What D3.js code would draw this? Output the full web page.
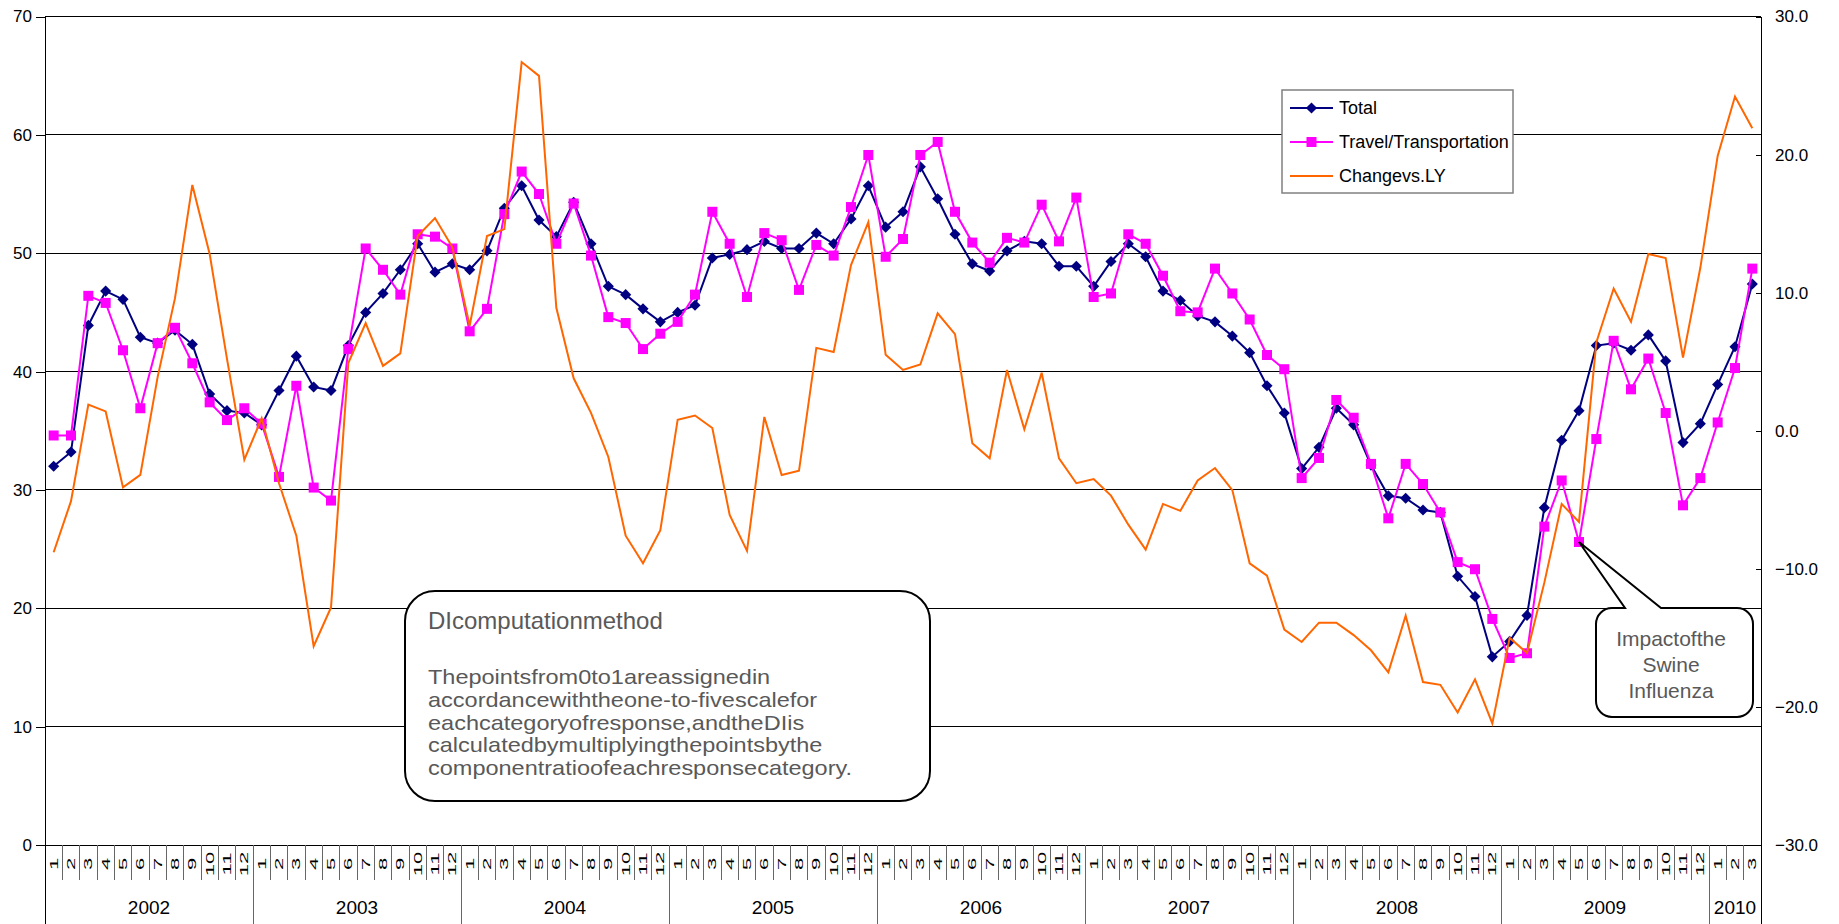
<!DOCTYPE html>
<html>
<head>
<meta charset="utf-8">
<script src="https://cdn.jsdelivr.net/npm/d3@7/dist/d3.min.js"></script>
<style>
  html, body { margin: 0; padding: 0; background: #fff; }
  svg { display: block; font-family: "Liberation Sans", Arial, sans-serif; }
</style>
</head>
<body>
<svg id="chart" width="1839" height="924"></svg>
<script>
// Monthly series, Jan 2002 – Mar 2010
const years = ["2002", "2003", "2004", "2005", "2006", "2007", "2008", "2009", "2010"];
const monthsPerYear = [12, 12, 12, 12, 12, 12, 12, 12, 3];

const total = [
  32.0, 33.2, 43.9, 46.8, 46.1, 42.9, 42.4, 43.5, 42.3, 38.1, 36.7, 36.5,
  35.5, 38.4, 41.3, 38.7, 38.4, 42.2, 45.0, 46.6, 48.6, 50.8, 48.4, 49.1,
  48.6, 50.2, 53.8, 55.7, 52.8, 51.4, 54.3, 50.8, 47.2, 46.5, 45.3, 44.2,
  45.0, 45.6, 49.6, 49.9, 50.3, 51.0, 50.4, 50.4, 51.7, 50.8, 52.9, 55.7,
  52.2, 53.5, 57.3, 54.6, 51.6, 49.1, 48.5, 50.2, 51.0, 50.8, 48.9, 48.9,
  47.2, 49.3, 50.8, 49.7, 46.8, 46.0, 44.7, 44.2, 43.0, 41.6, 38.8, 36.5,
  31.8, 33.6, 36.9, 35.5, 32.1, 29.5, 29.3, 28.3, 28.1, 22.7, 21.0, 15.9,
  17.2, 19.4, 28.5, 34.2, 36.7, 42.2, 42.4, 41.8, 43.1, 40.9, 34.0, 35.6,
  38.9, 42.1, 47.4
];

const travel = [
  34.6, 34.6, 46.4, 45.8, 41.8, 36.9, 42.4, 43.7, 40.7, 37.4, 35.9, 36.9,
  35.6, 31.1, 38.8, 30.2, 29.1, 41.9, 50.4, 48.6, 46.5, 51.6, 51.4, 50.4,
  43.4, 45.3, 53.3, 56.9, 55.0, 50.8, 54.2, 49.8, 44.6, 44.1, 41.9, 43.2,
  44.2, 46.5, 53.5, 50.8, 46.3, 51.7, 51.1, 46.9, 50.7, 49.8, 53.9, 58.3,
  49.7, 51.2, 58.3, 59.4, 53.5, 50.9, 49.2, 51.3, 50.9, 54.1, 51.0, 54.7,
  46.3, 46.6, 51.6, 50.8, 48.1, 45.1, 45.0, 48.7, 46.6, 44.4, 41.4, 40.2,
  31.0, 32.7, 37.6, 36.1, 32.2, 27.6, 32.2, 30.5, 28.1, 23.9, 23.3, 19.1,
  15.8, 16.2, 26.9, 30.8, 25.6, 34.3, 42.6, 38.5, 41.1, 36.5, 28.7, 31.0,
  35.7, 40.3, 48.7
];

// Change vs. last year (secondary axis)
const changeVsLY = [
  -8.8, -5.1, 1.9, 1.4, -4.1, -3.2, 3.9, 9.6, 17.8, 12.8, 5.2, -2.1,
  0.9, -3.8, -7.6, -15.6, -12.8, 4.9, 7.8, 4.7, 5.6, 14.1, 15.4, 13.3,
  7.6, 14.1, 14.6, 26.7, 25.7, 8.9, 3.8, 1.3, -1.9, -7.6, -9.6, -7.2,
  0.8, 1.1, 0.2, -6.1, -8.7, 1.0, -3.2, -2.9, 6.0, 5.7, 12.0, 15.1,
  5.5, 4.4, 4.8, 8.5, 7.0, -0.9, -2.0, 4.4, 0.1, 4.2, -2.0, -3.8,
  -3.5, -4.7, -6.8, -8.6, -5.3, -5.8, -3.6, -2.7, -4.3, -9.6, -10.5, -14.4,
  -15.3, -13.9, -13.9, -14.8, -15.9, -17.5, -13.4, -18.2, -18.4, -20.4, -18.0, -21.2,
  -15.0, -16.1, -11.0, -5.3, -6.6, 6.4, 10.3, 7.9, 12.8, 12.5, 5.3, 11.8,
  19.9, 24.2, 21.9
];

const leftTicks = [0, 10, 20, 30, 40, 50, 60, 70];
const rightTicks = [-30, -20, -10, 0, 10, 20, 30];
const seriesNames = ["Total", "Travel/Transportation", "Changevs.LY"];

const noteTitle = "DIcomputationmethod";
const noteLines = [
  "Thepointsfrom0to1areassignedin",
  "accordancewiththeone-to-fivescalefor",
  "eachcategoryofresponse,andtheDIis",
  "calculatedbymultiplyingthepointsbythe",
  "componentratioofeachresponsecategory."
];
const calloutLines = ["Impactofthe", "Swine", "Influenza"];
const calloutIndex = 88; // 2009-5

// Month labels built from the per-year month counts
const months = [];
years.forEach((yr, yi) => {
  for (let m = 1; m <= monthsPerYear[yi]; m++) months.push({ year: yr, month: m });
});

const colors = { total: "#000080", travel: "#FF00FF", change: "#FF6600" };

const svg = d3.select("#chart");
const W = 1839, H = 924;
const plot = { left: 45, right: 1761, top: 16.5, bottom: 845 };

svg.append("rect").attr("width", W).attr("height", H).attr("fill", "#fff");

const x = d3.scaleBand().domain(d3.range(months.length)).range([plot.left, plot.right]).padding(0);
const cx = i => x(i) + x.bandwidth() / 2;
const yL = d3.scaleLinear().domain([0, 70]).range([plot.bottom, plot.top]);
const yR = d3.scaleLinear().domain([-30, 30]).range([plot.bottom, plot.top]);

// Horizontal gridlines (primary axis)
svg.append("g").selectAll("line").data(leftTicks.filter(v => v > 0)).join("line")
  .attr("x1", plot.left).attr("x2", plot.right)
  .attr("y1", d => yL(d)).attr("y2", d => yL(d))
  .attr("stroke", "#000").attr("stroke-width", 1).attr("shape-rendering", "crispEdges");

// Left axis
const gL = svg.append("g").attr("transform", `translate(${plot.left},0)`)
  .call(d3.axisLeft(yL).tickValues(leftTicks).tickSize(9).tickPadding(4).tickFormat(d3.format("d")));
gL.select(".domain").remove();
gL.selectAll(".tick line").attr("stroke", "#000").attr("shape-rendering", "crispEdges");
gL.selectAll(".tick text").attr("font-size", 17).attr("fill", "#000")
  .attr("font-family", "'Liberation Sans', Arial, sans-serif");

// Right axis (secondary)
const gR = svg.append("g").attr("transform", `translate(${plot.right},0)`)
  .call(d3.axisRight(yR).tickValues(rightTicks).tickSizeInner(-5).tickSizeOuter(0).tickPadding(14).tickFormat(d3.format(".1f")));
gR.select(".domain").remove();
gR.selectAll(".tick line").attr("stroke", "#000").attr("shape-rendering", "crispEdges");
gR.selectAll(".tick text").attr("font-size", 17).attr("fill", "#000")
  .attr("font-family", "'Liberation Sans', Arial, sans-serif");

// Vertical frame lines (extend through the category label area)
[plot.left, plot.right].forEach(px => {
  svg.append("line").attr("x1", px).attr("x2", px).attr("y1", plot.top).attr("y2", H)
    .attr("stroke", "#000").attr("stroke-width", 1).attr("shape-rendering", "crispEdges");
});

// Category axis: baseline, month ticks, year separators
svg.append("line").attr("x1", plot.left).attr("x2", plot.right)
  .attr("y1", plot.bottom).attr("y2", plot.bottom)
  .attr("stroke", "#000").attr("shape-rendering", "crispEdges");

const boundaries = d3.range(1, months.length);
svg.append("g").selectAll("line").data(boundaries).join("line")
  .attr("x1", i => x(i)).attr("x2", i => x(i))
  .attr("y1", plot.bottom)
  .attr("y2", i => months[i].month === 1 ? H : 880)
  .attr("stroke", "#666").attr("stroke-width", 1).attr("shape-rendering", "crispEdges");

svg.append("g").selectAll("text").data(months).join("text")
  .attr("transform", (d, i) => `translate(${cx(i)},864) rotate(-90) scale(1,0.52)`)
  .attr("text-anchor", "middle").attr("dominant-baseline", "central")
  .attr("font-size", 22).attr("fill", "#000")
  .text(d => d.month);

let start = 0;
const yearSpans = years.map((yr, yi) => {
  const s = { year: yr, from: start, to: start + monthsPerYear[yi] };
  start += monthsPerYear[yi];
  return s;
});
svg.append("g").selectAll("text").data(yearSpans).join("text")
  .attr("x", d => (x(d.from) + x(d.to - 1) + x.bandwidth()) / 2)
  .attr("y", 914)
  .attr("text-anchor", "middle").attr("font-size", 19).attr("fill", "#000")
  .text(d => d.year);

// Series
const idx = d3.range(months.length);
const lineL = arr => d3.line().x(i => cx(i)).y(i => yL(arr[i]));
const lineR = arr => d3.line().x(i => cx(i)).y(i => yR(arr[i]));
const diamond = d3.symbol(d3.symbolSquare, 62);

svg.append("path").datum(idx).attr("d", lineL(total))
  .attr("fill", "none").attr("stroke", colors.total).attr("stroke-width", 2);
svg.append("g").selectAll("path").data(idx).join("path")
  .attr("d", diamond)
  .attr("transform", i => `translate(${cx(i)},${yL(total[i])}) rotate(45)`)
  .attr("fill", colors.total);

svg.append("path").datum(idx).attr("d", lineL(travel))
  .attr("fill", "none").attr("stroke", colors.travel).attr("stroke-width", 2);
svg.append("g").selectAll("rect").data(idx).join("rect")
  .attr("x", i => cx(i) - 5).attr("y", i => yL(travel[i]) - 5)
  .attr("width", 10).attr("height", 10).attr("fill", colors.travel);

svg.append("path").datum(idx).attr("d", lineR(changeVsLY))
  .attr("fill", "none").attr("stroke", colors.change).attr("stroke-width", 2)
  .attr("stroke-linejoin", "miter");

// Legend
const lg = svg.append("g").attr("transform", "translate(1282,90)");
lg.append("rect").attr("width", 231).attr("height", 103)
  .attr("fill", "#fff").attr("stroke", "#808080").attr("stroke-width", 1.5);
const rows = [
  { name: seriesNames[0], color: colors.total, marker: "diamond" },
  { name: seriesNames[1], color: colors.travel, marker: "square" },
  { name: seriesNames[2], color: colors.change, marker: null }
];
rows.forEach((r, k) => {
  const ry = 18 + k * 34;
  lg.append("line").attr("x1", 8).attr("x2", 51).attr("y1", ry).attr("y2", ry)
    .attr("stroke", r.color).attr("stroke-width", 2);
  if (r.marker === "diamond") {
    lg.append("path").attr("d", diamond)
      .attr("transform", `translate(29.5,${ry}) rotate(45)`).attr("fill", r.color);
  } else if (r.marker === "square") {
    lg.append("rect").attr("x", 24.5).attr("y", ry - 5).attr("width", 10).attr("height", 10)
      .attr("fill", r.color);
  }
  lg.append("text").attr("x", 57).attr("y", ry).attr("dominant-baseline", "central")
    .attr("font-size", 18).attr("fill", "#000").text(r.name);
});

// Rounded box outline, optionally with a pointer notch on the top edge
function roundedRectPath(x0, y0, x1, y1, r, pointer) {
  const p = d3.path();
  p.moveTo(x0 + r, y0);
  if (pointer) {
    p.lineTo(pointer.b1, y0);
    p.lineTo(pointer.tx, pointer.ty);
    p.lineTo(pointer.b2, y0);
  }
  p.lineTo(x1 - r, y0);
  p.arcTo(x1, y0, x1, y0 + r, r);
  p.lineTo(x1, y1 - r);
  p.arcTo(x1, y1, x1 - r, y1, r);
  p.lineTo(x0 + r, y1);
  p.arcTo(x0, y1, x0, y1 - r, r);
  p.lineTo(x0, y0 + r);
  p.arcTo(x0, y0, x0 + r, y0, r);
  p.closePath();
  return p.toString();
}

// DI method note
svg.append("path").attr("d", roundedRectPath(405, 591, 930, 801, 30))
  .attr("fill", "#fff").attr("stroke", "#000").attr("stroke-width", 2);
svg.append("text").attr("x", 428).attr("y", 629).attr("font-size", 24).attr("fill", "#595959")
  .text(noteTitle);
// Body set in a slightly widened face with tight leading
svg.append("g").attr("transform", "translate(428,0) scale(1.2,1)")
  .selectAll("text").data(noteLines).join("text")
  .attr("x", 0).attr("y", (d, k) => 684 + k * 22.8)
  .attr("font-size", 19.6).attr("fill", "#595959").text(d => d);

// Callout pointing at the May 2009 travel value
const tip = { tx: cx(calloutIndex), ty: yL(travel[calloutIndex]), b1: 1625, b2: 1661 };
svg.append("path").attr("d", roundedRectPath(1596, 608, 1753, 717, 16, tip))
  .attr("fill", "#fff").attr("stroke", "#000").attr("stroke-width", 2)
  .attr("stroke-linejoin", "miter");
svg.append("g").selectAll("text").data(calloutLines).join("text")
  .attr("x", 1671).attr("y", (d, k) => 646 + k * 26)
  .attr("text-anchor", "middle").attr("font-size", 21).attr("fill", "#595959").text(d => d);
</script>
</body>
</html>
